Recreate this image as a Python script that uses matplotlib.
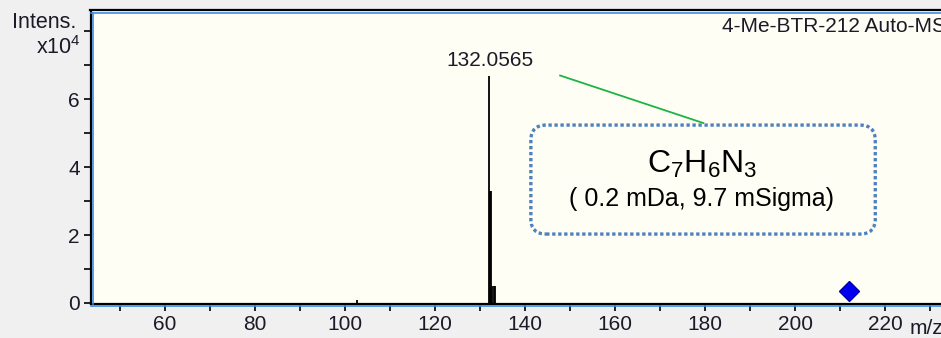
import matplotlib.pyplot as plt
from matplotlib.patches import FancyBboxPatch
from matplotlib.ticker import MultipleLocator, FuncFormatter

# spectrum (m/z, intensity in units of 1e4)
peak_mz = [102.7, 132.06, 132.25, 132.45, 132.75, 133.05, 133.35]
peak_int = [0.10, 6.7, 3.3, 3.3, 0.5, 0.5, 0.5]
precursor_mz = 212.0
precursor_int = 0.36
label_mz = 132.0565
formula = "C$_7$H$_6$N$_3$"
error_text = "( 0.2 mDa, 9.7 mSigma)"
title = "4-Me-BTR-212 Auto-MS"

plt.rcParams["font.family"] = ["Liberation Sans", "DejaVu Sans"]
plt.rcParams["mathtext.fontset"] = "custom"
plt.rcParams["mathtext.rm"] = "Liberation Sans"
box_font = ["Liberation Sans Narrow", "Liberation Sans", "DejaVu Sans"]
txt = "#1c1a28"

fig = plt.figure(figsize=(9.41, 3.38), dpi=100, facecolor="#f0f0f0")
ax = fig.add_axes([91 / 941, 34 / 338, 1 - 91 / 941, (304 - 11) / 338])
ax.set_facecolor("#fefef4")

ax.vlines(peak_mz, 0, peak_int, color="black", lw=1.3)
ax.plot([precursor_mz], [precursor_int], marker="D", ms=10.5, color="#0000ee",
        mec="#0000aa", ls="none")

ax.set_xlim(43.6, 232.4)
ax.set_ylim(-0.03, 8.6)

ax.xaxis.set_major_locator(MultipleLocator(20))
ax.xaxis.set_minor_locator(MultipleLocator(10))
ax.yaxis.set_major_locator(MultipleLocator(2))
ax.yaxis.set_minor_locator(MultipleLocator(1))
ax.yaxis.set_major_formatter(FuncFormatter(lambda v, p: "%d" % v if v < 7 else ""))
ax.tick_params(which="both", direction="out", length=5, width=1.2, color="black",
               labelsize=15, labelcolor=txt, pad=3)
for side in ["top", "right"]:
    ax.spines[side].set_visible(False)
for side in ["left", "bottom"]:
    ax.spines[side].set_linewidth(1.6)
    ax.spines[side].set_color("black")

# blue inner frame lines
blue = "#3c8ce6"
ax.plot([0.002, 0.002], [0, 0.993], transform=ax.transAxes, color=blue, lw=1.2,
        clip_on=False, zorder=5)
ax.plot([0, 1], [0.993, 0.993], transform=ax.transAxes, color=blue, lw=1.2,
        clip_on=False, zorder=5)
ax.plot([0, 1], [-0.006, -0.006], transform=ax.transAxes, color=blue, lw=1.2,
        clip_on=False, zorder=5)
fig.add_artist(plt.Line2D([90 / 941, 1], [328 / 338, 328 / 338], color="black", lw=1.6))

ax.text(label_mz + 0.1, 7.15, "%.4f" % label_mz, ha="center", va="center",
        fontsize=15, color=txt)
ax.plot([147.8, 179.6], [6.7, 5.3], color="#1db344", lw=1.3)

box = FancyBboxPatch((141.3, 2.03), 217.8 - 141.3, 5.24 - 2.03,
                     boxstyle="round,pad=0,rounding_size=3.4", mutation_aspect=0.132,
                     fill=False, ec="#4f81bd", lw=2.4, ls=(0, (1, 0.8)))
ax.add_patch(box)
ax.text(179.3, 4.08, formula, ha="center", va="center", fontsize=23,
        family=box_font)
ax.text(179.3, 3.05, error_text, ha="center", va="center", fontsize=18,
        family=box_font)

fig.text(722 / 941, 1 - 27 / 338, title, ha="left", va="center", fontsize=15,
         color=txt)
fig.text(12 / 941, 1 - 22 / 338, "Intens.", ha="left", va="center", fontsize=15.5,
         color=txt)
fig.text(81 / 941, 1 - 48 / 338, "x10$^4$", ha="right", va="center", fontsize=15.5,
         color=txt)
fig.text(910 / 941, 1 - 328 / 338, "m/z", ha="left", va="center", fontsize=15,
         color=txt)

fig.savefig("out.png", dpi=100, facecolor=fig.get_facecolor())
